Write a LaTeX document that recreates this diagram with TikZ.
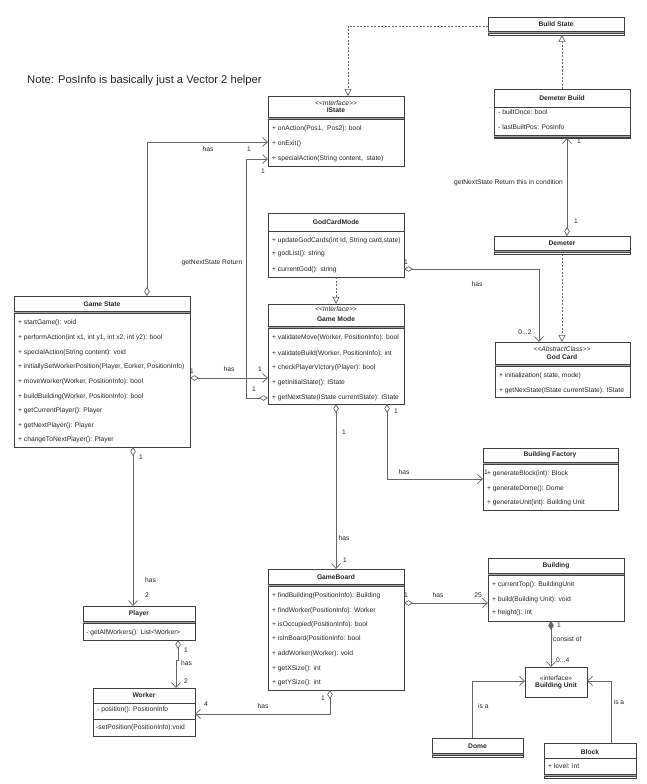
\documentclass[tikz,border=0pt]{standalone}
\usepackage{fontspec}
\setmainfont{Liberation Sans}
\usetikzlibrary{arrows.meta}
\begin{document}
\begin{tikzpicture}[x=1pt,y=-1pt,
  cls/.style={draw=black!75, fill=white, line width=0.6pt, inner sep=0pt, outer sep=0pt, anchor=north west},
  mth/.style={anchor=west, inner sep=0pt, font=\fontsize{6.7}{8}\selectfont, text=black!85},
  ttl/.style={inner sep=0pt, font=\fontsize{6.7}{8}\selectfont\bfseries, text=black!85},
  ster/.style={inner sep=0pt, font=\fontsize{6.7}{8}\selectfont\itshape, text=black!85},
  lbl/.style={inner sep=0pt, font=\fontsize{6.7}{8}\selectfont, text=black!85},
  conn/.style={draw=black!60, line width=0.7pt},
  aggr/.style={conn, {Diamond[length=9pt,width=5.5pt,fill=white]}-{Straight Barb[length=5pt,width=9pt]}},
  comp/.style={conn, {Diamond[length=9pt,width=5.5pt]}-{Straight Barb[length=5pt,width=9pt]}},
  assoc/.style={conn, -{Straight Barb[length=5pt,width=9pt]}},
  realize/.style={conn, dash pattern=on 2pt off 1.5pt, -{Triangle[length=7pt,width=7pt,fill=white]}}
]
\newcommand\umlbox[5]{\node[cls, minimum width=#4pt, minimum height=#5pt] (#1) at (#2,#3) {};}
\newcommand\dblsep[2]{\fill[black!35] (#1.west |- 0,#2) rectangle (#1.east |- 0,#2+2.5);
  \draw[black!75,line width=0.5pt] (#1.west |- 0,#2) -- (#1.east |- 0,#2) (#1.west |- 0,#2+2.5) -- (#1.east |- 0,#2+2.5);}
\newcommand\sgsep[2]{\draw[black!75,line width=0.5pt] (#1.west |- 0,#2) -- (#1.east |- 0,#2);}

\useasboundingbox (0,0) rectangle (647,784);
\fill[white] (0,0) rectangle (647,784);

% note
\node[anchor=west, inner sep=0pt, font=\fontsize{11.2}{13}\selectfont, text=black!85] (note) at (27,81) {Note: PosInfo is basically just a Vector 2 helper};

% Build State
\umlbox{bs}{488}{17}{136}{18}
\dblsep{bs}{31}
\node[ttl] (bsT) at (556,24) {Build State};

% IState
\umlbox{is}{268}{96}{136}{70}
\node[ster] (isS) at (336,103) {<{}<Interface>{}>};
\node[ttl] (isT) at (336,110.5) {IState};
\dblsep{is}{117}
\node[mth] (is1) at (272,129) {+ onAction(Pos1,\ \ Pos2): bool};
\node[mth] (is2) at (272,144) {+ onExit()};
\node[mth] (is3) at (272,159) {+ specialAction(String content,\ \ state)};

% Demeter Build
\umlbox{db}{494}{89}{136}{49}
\node[ttl] (dbT) at (562,98) {Demeter Build};
\sgsep{db}{107}
\node[mth] (db1) at (498,112) {- builtOnce: bool};
\node[mth] (db2) at (498,127) {- lastBuiltPos: PosInfo};
\dblsep{db}{135}

% Demeter
\umlbox{dm}{494}{236}{136}{18}
\node[ttl] (dmT) at (562,243) {Demeter};
\dblsep{dm}{250}

% GodCardMode
\umlbox{gcm}{268}{213}{136}{64}
\node[ttl] (gcmT) at (336,222) {GodCardMode};
\sgsep{gcm}{231}
\node[mth] (gcm1) at (272,241) {+ updateGodCards(int Id, String card,state)};
\node[mth] (gcm2) at (272,254) {+ godList(): string};
\node[mth] (gcm3) at (272,270) {+ currentGod(): string};

% Game Mode
\umlbox{gm}{268}{304}{136}{100}
\node[ster] (gmS) at (336,309.5) {<{}<Interface>{}>};
\node[ttl] (gmT) at (336,319) {Game Mode};
\dblsep{gm}{326}
\node[mth] (gm1) at (272,338) {+ validateMove(Worker, PositionInfo): bool};
\node[mth] (gm2) at (272,354) {+ validateBuild(Worker, PositionInfo): int};
\node[mth] (gm3) at (272,368) {+ checkPlayerVictory(Player): bool};
\node[mth] (gm4) at (272,383) {+ getInitialState(): IState};
\node[mth] (gm5) at (272,398) {+ getNextState(IState currentState): IState};

% Game State
\umlbox{gs}{14}{296}{176}{151}
\node[ttl] (gsT) at (102,304) {Game State};
\dblsep{gs}{311}
\node[mth] (gs1) at (18,323) {+ startGame(): void};
\node[mth] (gs2) at (18,338) {+ performAction(int x1, int y1, int x2, int y2): bool};
\node[mth] (gs3) at (18,353) {+ specialAction(String content): void};
\node[mth] (gs4) at (18,367) {+ initiallySetWorkerPosition(Player, Eorker, PositionInfo)};
\node[mth] (gs5) at (18,382) {+ moveWorker(Worker, PositionInfo): bool};
\node[mth] (gs6) at (18,397) {+ buildBuilding(Worker, PositionInfo): bool};
\node[mth] (gs7) at (18,411) {+ getCurrentPlayer(): Player};
\node[mth] (gs8) at (18,426) {+ getNextPlayer(): Player};
\node[mth] (gs9) at (18,440) {+ changeToNextPlayer(): Player};

% God Card
\umlbox{gc}{495}{342}{135}{55}
\node[ster] (gcS) at (562,349) {<{}<AbstractClass>{}>};
\node[ttl] (gcT) at (562,357) {God Card};
\dblsep{gc}{364}
\node[mth] (gc1) at (499,376) {+ initialization( state, mode)};
\node[mth] (gc2) at (499,391) {+ getNexState(IState currentState): IState};

% Building Factory
\umlbox{bf}{483}{448}{135}{62}
\node[ttl] (bfT) at (550,455) {Building Factory};
\dblsep{bf}{462}
\node[mth] (bf1) at (487,474) {+ generateBlock(int): Block};
\node[mth] (bf2) at (487,489) {+ generateDome(): Dome};
\node[mth] (bf3) at (487,503) {+ generateUnit(int): Building Unit};

% Building
\umlbox{bd}{488}{558}{136}{63}
\node[ttl] (bdT) at (556,566) {Building};
\dblsep{bd}{573}
\node[mth] (bd1) at (492,585) {+ currentTop(): BuildingUnit};
\node[mth] (bd2) at (492,600) {+ build(Building Unit): void};
\node[mth] (bd3) at (492,613) {+ height(): int};

% GameBoard
\umlbox{gb}{268}{569}{136}{121}
\node[ttl] (gbT) at (336,577) {GameBoard};
\dblsep{gb}{584}
\node[mth] (gb1) at (272,596) {+ findBuilding(PositionInfo): Building};
\node[mth] (gb2) at (272,611) {+ findWorker(PositionInfo): Worker};
\node[mth] (gb3) at (272,625) {+ isOccupied(PositionInfo): bool};
\node[mth] (gb4) at (272,639) {+ isInBoard(PositionInfo: bool};
\node[mth] (gb5) at (272,654) {+ addWorker(Worker): void};
\node[mth] (gb6) at (272,669) {+ getXSize(): int};
\node[mth] (gb7) at (272,683) {+ getYSize(): int};

% Player
\umlbox{pl}{83}{606}{112}{34}
\node[ttl] (plT) at (139,614) {Player};
\dblsep{pl}{621}
\node[mth] (pl1) at (86,633) {- getAllWorkers(): List<Worker>};

% Worker
\umlbox{wk}{93}{688}{102}{48}
\node[ttl] (wkT) at (144,695) {Worker};
\sgsep{wk}{703}
\node[mth] (wk1) at (97,710) {- position(): PositionInfo};
\sgsep{wk}{719}
\node[mth] (wk2) at (96,728) {-setPosition(PositionInfo):void};

% Building Unit
\umlbox{bu}{525}{667}{62}{30}
\node[inner sep=0pt, font=\fontsize{6.5}{7.5}\selectfont, text=black!85] (buS) at (556,678) {«interface»};
\node[ttl] (buT) at (556,686) {Building Unit};

% Dome
\umlbox{dome}{432}{738}{91}{19}
\node[ttl] (domeT) at (477.5,746) {Dome};
\dblsep{dome}{753}

% Block
\umlbox{blk}{544}{743}{92}{35}
\node[ttl] (blkT) at (590,752) {Block};
\sgsep{blk}{758}
\node[mth] (blk1) at (548,766) {+ level: int};
\dblsep{blk}{774}

% ---------- connectors ----------
\draw[realize] (bs.west |- 0,26) -| (is.north -| 348,0);
\draw[realize] (db.north -| 562,0) -- (bs.south -| 562,0);
\draw[aggr] (dm.north -| 567,0) -- (db.south -| 567,0);
\draw[realize] (dm.south -| 562,0) -- (gc.north -| 562,0);
\draw[aggr] (gcm.east |- 0,269) -| (gc.north -| 539,0);
\draw[realize] (gcm.south -| 336,0) -- (gm.north -| 336,0);
\draw[aggr] (gs.north -| 147,0) |- (is.west |- 0,142);
\draw[aggr] (gm.west |- 0,398) -- (246,398) -- (246,159) -- (is.west |- 0,159);
\draw[aggr] (gs.east |- 0,378) -- (gm.west |- 0,378);
\draw[aggr] (gm.south -| 336,0) -- (gb.north -| 336,0);
\draw[aggr] (gm.south -| 387,0) |- (bf.west |- 0,479);
\draw[aggr] (gb.east |- 0,603) -- (bd.west |- 0,603);
\draw[comp] (bd.south -| 551,0) -- (bu.north -| 551,0);
\draw[assoc] (dome.north -| 472,0) |- (bu.west |- 0,681);
\draw[assoc] (blk.north -| 611,0) |- (bu.east |- 0,681);
\draw[aggr] (gs.south -| 133,0) -- (pl.north -| 133,0);
\draw[aggr] (pl.south -| 178,0) -- (178,660) -- (176,660) -- (wk.north -| 176,0);
\draw[aggr] (gb.south -| 330,0) |- (wk.east |- 0,714);

% ---------- labels ----------
\node[lbl] (l1) at (579,141) {1};
\node[lbl] (l2) at (576,221) {1};
\node[lbl, anchor=east] (l3) at (563,183) {getNextState Return this in condition};
\node[lbl] (l4) at (406,262) {1};
\node[lbl] (l5) at (477,284) {has};
\node[lbl] (l6) at (525,332) {0...2};
\node[lbl] (l7) at (208,149) {has};
\node[lbl] (l8) at (249,149) {1};
\node[lbl] (l9) at (263,171) {1};
\node[lbl] (l10) at (254,389) {1};
\node[lbl] (l11) at (212,263) {getNextState Return};
\node[lbl] (l12) at (192,371) {1};
\node[lbl] (l13) at (229,369) {has};
\node[lbl] (l14) at (260,369) {1};
\node[lbl] (l15) at (344,432) {1};
\node[lbl] (l16) at (344,538) {has};
\node[lbl] (l17) at (345,560) {1};
\node[lbl] (l18) at (396,411) {1};
\node[lbl] (l19) at (404,472) {has};
\node[lbl] (l20) at (486,472) {1};
\node[lbl] (l21) at (406,595) {1};
\node[lbl] (l22) at (438,595) {has};
\node[lbl] (l23) at (478,595) {25};
\node[lbl] (l24) at (559,625) {1};
\node[lbl, anchor=west] (l25) at (553,639) {consist of};
\node[lbl, anchor=west] (l26) at (556,660) {0...4};
\node[lbl, anchor=west] (l27) at (478,706) {is a};
\node[lbl] (l28) at (619,702) {is a};
\node[lbl] (l29) at (141,457) {1};
\node[lbl, anchor=west] (l30) at (145,580) {has};
\node[lbl] (l31) at (147,595) {2};
\node[lbl] (l32) at (186,650) {1};
\node[lbl, anchor=west] (l33) at (181,663) {has};
\node[lbl] (l34) at (186,681) {2};
\node[lbl] (l35) at (323,698) {1};
\node[lbl] (l36) at (263,706) {has};
\node[lbl] (l37) at (206,704) {4};
\end{tikzpicture}
\end{document}
